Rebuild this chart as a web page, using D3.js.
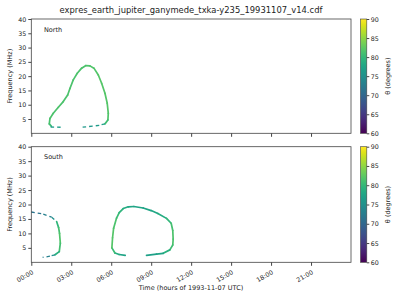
<!DOCTYPE html>
<html>
<head>
<meta charset="utf-8">
<script src="https://cdn.jsdelivr.net/npm/d3@7"></script>
<style>
  body { margin: 0; background: #fff; }
  text { font-family: "DejaVu Sans", sans-serif; fill: #222; }
</style>
</head>
<body>
<svg id="chart" width="400" height="300"></svg>
<script>
// time in hours, frequency in MHz, theta in degrees
const hourTicks = [0, 3, 6, 9, 12, 15, 18, 21];
const freqTicks = [5, 10, 15, 20, 25, 30, 35, 40];
const thetaTicks = [60, 65, 70, 75, 80, 85, 90];

// North panel
const northSolid = [
  [1.50, 2.5, 80], [1.35, 3.3, 81], [1.40, 5.2, 81.5], [1.65, 7.0, 81.5],
  [2.03, 9.1, 81.5], [2.40, 11.1, 81.5], [2.73, 13.4, 81.5], [2.90, 15.7, 81.5],
  [3.15, 18.7, 81.5], [3.45, 21.0, 81.5], [3.78, 22.8, 81.5], [4.10, 23.7, 81.5],
  [4.40, 23.6, 81.7], [4.70, 22.8, 81.8], [5.03, 20.4, 82], [5.28, 17.5, 82],
  [5.53, 14.0, 82], [5.70, 10.5, 82], [5.78, 7.0, 82], [5.75, 4.65, 81.5],
  [5.53, 3.3, 80]
];
const northDashL = [[1.45, 2.2, 77], [2.35, 2.1, 76]];
const northDashR = [[5.53, 3.3, 77], [5.10, 2.8, 77], [4.60, 2.5, 76], [3.75, 2.1, 76]];

// South panel
const southADashTop = [[0.00, 17.4, 71], [0.90, 16.7, 72], [1.53, 15.6, 74], [1.90, 14.1, 76]];
const southASolid = [
  [1.90, 14.1, 79], [2.05, 12.0, 80.5], [2.12, 10.0, 81.5], [2.18, 6.6, 82],
  [2.10, 3.7, 80], [1.78, 2.6, 78]
];
const southADashBot = [[1.78, 2.6, 76], [1.40, 2.1, 74], [0.85, 1.7, 72]];

const southBSolid = [
  [7.05, 2.4, 77], [6.60, 2.7, 78], [6.28, 3.2, 79], [6.05, 5.0, 82], [6.10, 8.5, 82],
  [6.18, 11.8, 82], [6.40, 15.3, 81], [6.60, 17.2, 80], [6.90, 18.6, 79], [7.28, 19.2, 78],
  [7.70, 19.3, 77.5], [8.40, 18.8, 77.5], [9.00, 17.9, 77.5], [9.50, 16.9, 78],
  [10.15, 15.2, 79], [10.50, 13.5, 80.5], [10.62, 11.0, 81.5], [10.65, 8.0, 81.5],
  [10.62, 6.0, 81.5], [10.40, 4.3, 80], [9.90, 3.1, 78], [9.40, 2.8, 77], [8.65, 2.4, 77]
];

const panels = [
  { name: "North", top: 19, bottom: 133.3, solid: [northSolid], dashed: [northDashL, northDashR], labels: false },
  { name: "South", top: 146.7, bottom: 262.3, solid: [southASolid, southBSolid], dashed: [southADashTop, southADashBot], labels: true }
];

const svg = d3.select("#chart");
const x = d3.scaleLinear().domain([0, 24]).range([31.3, 351]);
const color = d3.scaleSequential(d3.interpolateViridis).domain([60, 90]);

svg.append("text")
  .attr("x", 191).attr("y", 13)
  .attr("text-anchor", "middle")
  .style("font-size", "8.4px")
  .text("expres_earth_jupiter_ganymede_txka-y235_19931107_v14.cdf");

const grad = svg.append("defs").append("linearGradient")
  .attr("id", "viridis").attr("x1", 0).attr("y1", 1).attr("x2", 0).attr("y2", 0);
d3.range(0, 1.001, 0.05).forEach(t => {
  grad.append("stop").attr("offset", t).attr("stop-color", d3.interpolateViridis(t));
});

function drawSegments(g, y, pts, dashed) {
  for (let i = 0; i < pts.length - 1; i++) {
    const a = pts[i], b = pts[i + 1];
    g.append("line")
      .attr("x1", x(a[0])).attr("y1", y(a[1]))
      .attr("x2", x(b[0])).attr("y2", y(b[1]))
      .attr("stroke", color((a[2] + b[2]) / 2))
      .attr("stroke-width", dashed ? 1.3 : 1.7)
      .attr("stroke-linecap", dashed ? "butt" : "round")
      .attr("stroke-dasharray", dashed ? "3.5,3" : null);
  }
}

panels.forEach(p => {
  const y = d3.scaleLinear().domain([0, 40]).range([p.bottom, p.top]);
  const g = svg.append("g");

  p.solid.forEach(s => drawSegments(g, y, s, false));
  p.dashed.forEach(s => drawSegments(g, y, s, true));

  g.append("rect")
    .attr("x", x(0)).attr("y", p.top)
    .attr("width", x(24) - x(0)).attr("height", p.bottom - p.top)
    .attr("fill", "none").attr("stroke", "#444").attr("stroke-width", 0.8);

  const ya = g.append("g").attr("transform", `translate(${x(0)},0)`)
    .call(d3.axisLeft(y).tickValues(freqTicks).tickSize(3).tickPadding(2));
  ya.select(".domain").remove();
  ya.selectAll("line").attr("stroke", "#444");
  ya.selectAll("text").style("font-size", "6.3px").style("fill", "#222");

  const xa = g.append("g").attr("transform", `translate(0,${p.bottom})`)
    .call(d3.axisBottom(x).tickValues(hourTicks).tickSize(3.5)
      .tickFormat(h => p.labels ? d3.format("02d")(h) + ":00" : ""));
  xa.select(".domain").remove();
  xa.selectAll("line").attr("stroke", "#444");
  xa.selectAll("text")
    .style("font-size", "6.3px").style("fill", "#222")
    .attr("text-anchor", "end")
    .attr("dy", "0.35em")
    .attr("transform", "translate(-2,4) rotate(-30)")
    .attr("y", 6);

  g.append("text")
    .attr("transform", `translate(12,${(p.top + p.bottom) / 2}) rotate(-90)`)
    .attr("text-anchor", "middle")
    .style("font-size", "6.5px")
    .text("Frequency (MHz)");

  g.append("text")
    .attr("x", 44).attr("y", p.top + 12.5)
    .style("font-size", "6.5px")
    .text(p.name);

  // colorbar
  const cy = d3.scaleLinear().domain([60, 90]).range([p.bottom, p.top]);
  g.append("rect")
    .attr("x", 360.5).attr("y", p.top)
    .attr("width", 6.3).attr("height", p.bottom - p.top)
    .attr("fill", "url(#viridis)").attr("stroke", "#444").attr("stroke-width", 0.6);
  const ca = g.append("g").attr("transform", "translate(366.8,0)")
    .call(d3.axisRight(cy).tickValues(thetaTicks).tickSize(2.5).tickPadding(1.5));
  ca.select(".domain").remove();
  ca.selectAll("line").attr("stroke", "#444");
  ca.selectAll("text").style("font-size", "6.3px").style("fill", "#222");

  g.append("text")
    .attr("transform", `translate(390,${(p.top + p.bottom) / 2}) rotate(-90)`)
    .attr("text-anchor", "middle")
    .style("font-size", "6.5px")
    .text("θ (degrees)");
});

svg.append("text")
  .attr("x", 191).attr("y", 290)
  .attr("text-anchor", "middle")
  .style("font-size", "6.5px")
  .text("Time (hours of 1993-11-07 UTC)");
</script>
</body>
</html>
